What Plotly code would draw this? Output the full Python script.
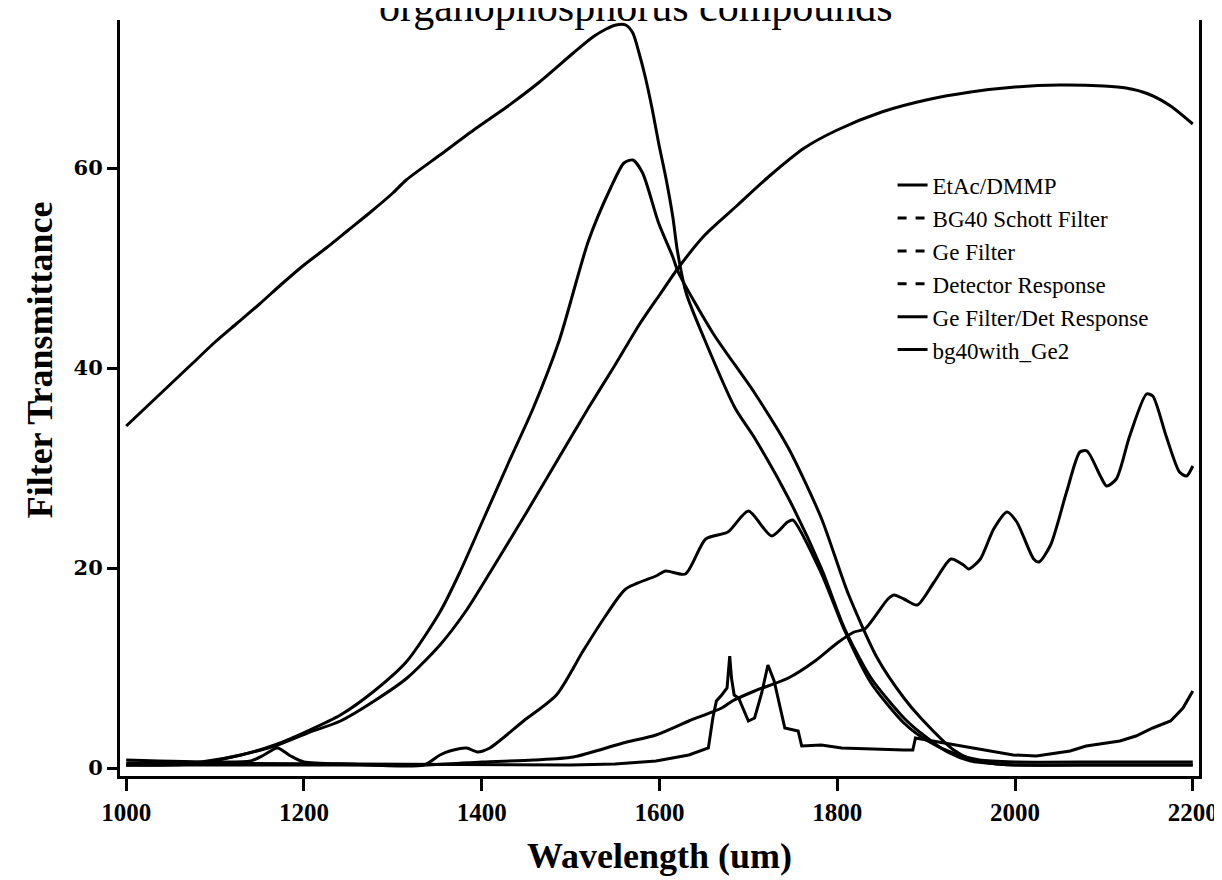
import plotly.graph_objects as go

# ---- data (wavelength in nm, transmittance in %) ----
wl_A = [1000,1025,1050,1075,1100,1125,1150,1175,1200,1225,1250,1275,1300,1315,1353,1391,1428,1465,1503,1525,1540,1551,1562,1570,1577,1584,1592,1599,1607,1615,1620,1630,1650,1685,1707,1745,1782,1808,1838,1875,1894,1924,1950,1980,2000,2100,2200]
val_A = [34.2,36.3,38.4,40.5,42.6,44.5,46.4,48.4,50.3,52.0,53.8,55.6,57.5,58.8,61.3,63.8,66.1,68.6,71.5,73.1,73.9,74.3,74.3,73.5,71.5,69.1,65.8,62.5,59.1,55.1,51.8,47.5,43.0,36.0,33.0,27.0,20.0,14.0,9.0,5.0,3.5,1.6,0.7,0.4,0.3,0.3,0.3]

wl_B = [1000,1050,1084,1129,1167,1204,1241,1279,1316,1353,1383,1409,1450,1480,1520,1550,1577,1600,1621,1651,1688,1725,1763,1800,1850,1900,1950,2000,2050,2100,2125,2150,2175,2200]
val_B = [0.3,0.3,0.5,1.3,2.2,3.5,4.7,6.7,9.0,12.3,15.8,19.5,25.5,30.0,36.0,40.3,44.3,47.3,50.0,53.3,56.3,59.3,62.0,63.8,65.6,66.8,67.6,68.1,68.3,68.2,68.0,67.4,66.2,64.4]

wl_C = [1000,1050,1084,1129,1167,1204,1241,1279,1316,1353,1375,1400,1430,1458,1487,1520,1545,1560,1570,1581,1599,1615,1621,1660,1707,1745,1782,1812,1845,1875,1894,1931,1950,1980,2000,2100,2200]
val_C = [0.3,0.4,0.6,1.3,2.3,3.7,5.3,7.7,10.7,15.6,19.5,24.5,30.5,36.0,42.7,52.7,58.0,60.5,60.8,59.5,54.5,51.1,49.6,43.5,37.5,32.0,25.0,17.5,11.0,7.0,5.0,1.8,0.9,0.4,0.3,0.3,0.3]

wl_E = [1000,1100,1140,1155,1170,1185,1200,1250,1335,1353,1364,1383,1395,1409,1447,1484,1514,1540,1562,1596,1607,1629,1652,1677,1700,1726,1744,1750,1782,1808,1838,1875,1900,1930,1960,2000,2100,2200]
val_E = [0.8,0.6,0.7,1.3,2.0,1.2,0.6,0.4,0.3,1.3,1.7,2.0,1.6,2.0,4.7,7.3,11.7,15.3,17.9,19.2,19.7,19.4,22.9,23.6,25.7,23.2,24.6,24.8,19.5,13.8,8.5,4.5,2.8,1.5,0.8,0.6,0.6,0.6]

wl_F = [1000,1200,1338,1400,1458,1503,1559,1596,1633,1670,1682,1707,1745,1775,1800,1819,1831,1857,1864,1875,1890,1909,1928,1942,1948,1961,1976,1991,2002,2021,2027,2040,2058,2073,2081,2096,2103,2114,2129,2148,2155,2170,2185,2193,2200]
val_F = [0.3,0.3,0.3,0.6,0.8,1.1,2.5,3.3,4.7,6.0,6.7,7.7,9.0,10.7,12.5,13.6,13.9,16.9,17.3,16.9,16.3,18.6,20.9,20.3,19.9,20.9,23.9,25.6,24.6,20.9,20.6,22.3,27.6,31.6,31.7,29.2,28.2,28.9,33.2,37.4,37.2,33.2,29.6,29.2,30.2]

wl_G = [1000,1300,1400,1500,1550,1596,1633,1655,1660,1664,1670,1676,1679,1681,1684,1689,1700,1707,1715,1722,1729,1741,1756,1760,1782,1805,1875,1885,1888,1950,1998,2024,2062,2080,2118,2136,2155,2175,2189,2200]
val_G = [0.5,0.4,0.4,0.3,0.4,0.7,1.3,2.0,5.0,6.7,7.3,8.0,11.2,9.0,7.3,7.0,4.7,5.0,7.5,10.3,8.7,4.0,3.7,2.2,2.3,2.0,1.8,1.8,3.0,2.0,1.3,1.2,1.7,2.2,2.7,3.2,4.0,4.7,6.0,7.7]

series_names = ["EtAc/DMMP", "BG40 Schott Filter", "Ge Filter", "Detector Response",
                "Ge Filter/Det Response", "bg40with_Ge2"]
legend_dash = ["solid", "dash", "dash", "dash", "solid", "solid"]

x_ticks = [1000, 1200, 1400, 1600, 1800, 2000, 2200]
y_ticks = [0, 20, 40, 60]

title_text = "organophosphorus compounds"
x_title = "Wavelength (um)"
y_title = "Filter Transmittance"

series = [
    ("EtAc/DMMP", wl_F, val_F, "spline"),
    ("BG40 Schott Filter", wl_G, val_G, "linear"),
    ("Ge Filter", wl_B, val_B, "spline"),
    ("Detector Response", wl_A, val_A, "spline"),
    ("Ge Filter/Det Response", wl_C, val_C, "spline"),
    ("bg40with_Ge2", wl_E, val_E, "spline"),
]

fig = go.Figure()
for name, xs, ys, shape in series:
    fig.add_trace(go.Scatter(
        x=xs, y=ys, mode="lines", name=name, showlegend=False,
        line=dict(color="black", width=3, shape=shape,
                  smoothing=0.7 if shape == "spline" else None),
        legendgroup=name,
    ))
for name, dash in zip(series_names, legend_dash):
    fig.add_trace(go.Scatter(
        x=[None], y=[None], mode="lines", name=name, legendgroup=name,
        line=dict(color="black", width=3, dash=dash),
    ))

serif = "Liberation Serif, Times New Roman, serif"

fig.update_layout(
    width=1222, height=880,
    margin=dict(l=112, r=26, t=12, b=112),
    paper_bgcolor="white", plot_bgcolor="white",
    showlegend=True,
    legend=dict(x=0.716, y=0.81, xanchor="left", yanchor="top",
                font=dict(family=serif, size=23, color="black"),
                bgcolor="rgba(0,0,0,0)", tracegroupgap=0, itemwidth=30),
    xaxis=dict(range=[993, 2207], tickvals=x_ticks, ticktext=[str(v) for v in x_ticks],
               showgrid=False, zeroline=False, showline=True, linecolor="black", linewidth=3,
               ticks="outside", ticklen=12, tickwidth=3, tickcolor="black",
               tickfont=dict(family=serif, size=25, color="black", weight="bold"),
               title=dict(text=x_title, font=dict(family=serif, size=36, color="black", weight="bold"),
                          standoff=18),
               mirror=False),
    yaxis=dict(range=[-0.8, 74.8], tickvals=y_ticks, ticktext=[str(v) for v in y_ticks],
               showgrid=False, zeroline=False, showline=True, linecolor="black", linewidth=3,
               ticks="outside", ticklen=10, tickwidth=3, tickcolor="black",
               tickfont=dict(family="DejaVu Serif", size=21, color="black", weight="bold"),
               mirror=True),
    annotations=[
        dict(text=title_text, xref="paper", yref="paper", x=0.478, y=1.0,
             xanchor="center", yanchor="bottom", yshift=-12, showarrow=False,
             font=dict(family=serif, size=42, color="black")),
        dict(text=y_title, xref="paper", yref="paper", x=-0.074, y=0.55,
             xanchor="center", yanchor="middle", textangle=-90, showarrow=False,
             font=dict(family=serif, size=36, color="black", weight="bold")),
    ],
)

fig.write_html("out.html")
